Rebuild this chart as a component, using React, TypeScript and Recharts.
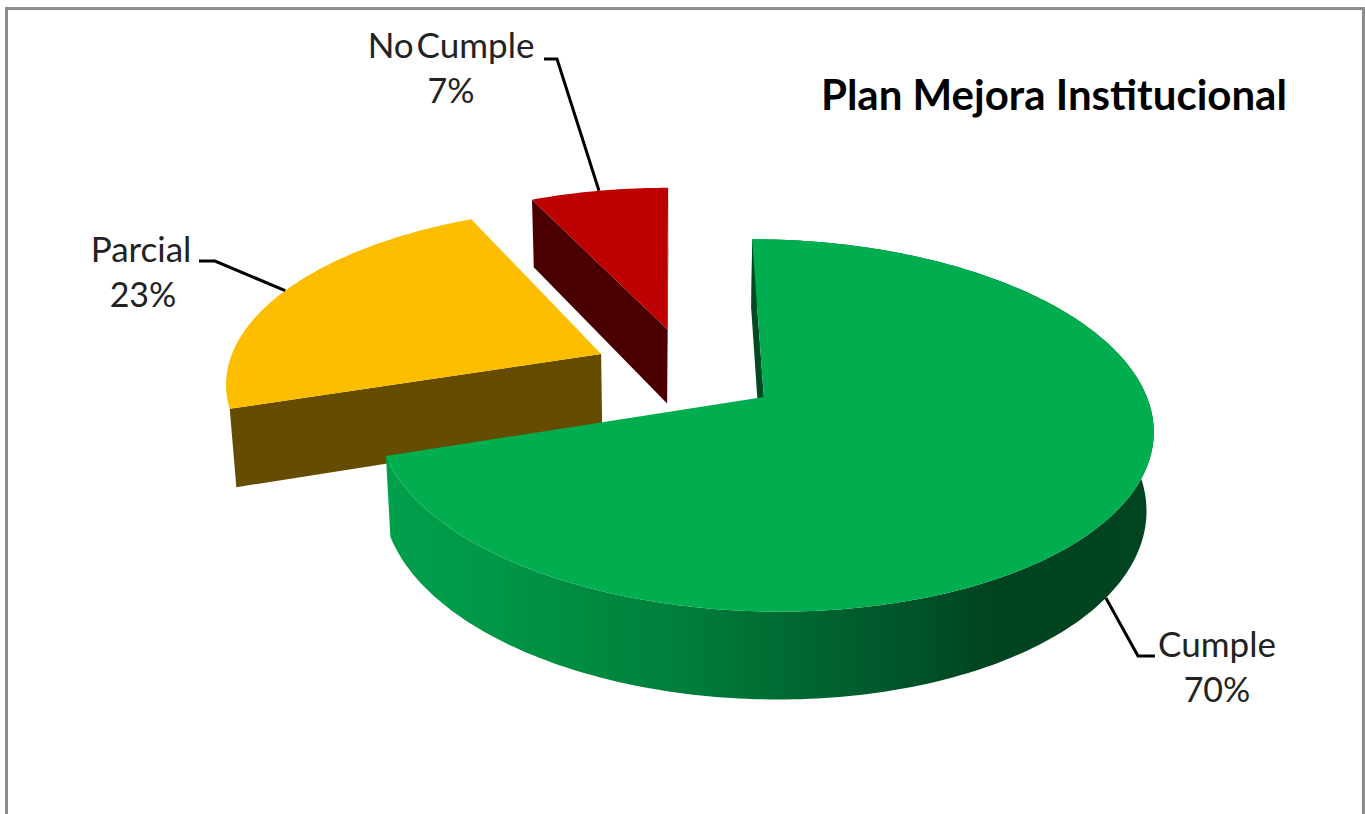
import { Pie, PieChart } from "recharts";

// Painted back to front, so the large slice stays on top of its neighbours.
const categories = ["No Cumple", "Parcial", "Cumple"];
const percentages = [7, 23, 70];

const chartData = categories.map((name, i) => ({ name, value: percentages[i] }));

const TITLE = "Plan Mejora Institucional";
const FONT = "Lato, 'Open Sans', sans-serif";

// Perspective of the tilted disc: vertical squash, foreshortening, wall height
const SQUASH = 0.4747;
const TILT = 0.1528;
const WALL_DROP = 79;
const WALL_SHRINK = 0.015;
const RADIUS = 383;
const CENTER_X = 676;
const CENTER_Y = 397;

// Slice styling and how far each slice is pulled out on the disc plane
const sliceStyles: Record<string, { top: string; wall: string; shift: [number, number]; rimWall: boolean }> = {
  Cumple: { top: "#00AE50", wall: "#004A23", shift: [0.2294, 0], rimWall: true },
  Parcial: { top: "#FDBE00", wall: "#664C00", shift: [-0.2028, 0.245], rimWall: false },
  "No Cumple": { top: "#BE0000", wall: "#4A0000", shift: [-0.0249, 0.396], rimWall: false },
};

// Where each label sits and the elbow of its leader line
const labelLayout: Record<string, { x: number; y: number; elbow: [number, number][]; onWall: boolean; gap: number }> = {
  Cumple: { x: 1217, y: 657, elbow: [[1138, 656], [1155, 656]], onWall: true, gap: 0 },
  Parcial: { x: 141, y: 262, elbow: [[215, 261], [199, 261]], onWall: false, gap: 0 },
  "No Cumple": { x: 451, y: 58, elbow: [[557, 59], [544, 59]], onWall: false, gap: -6 },
};

type Point = [number, number];

function project(cx: number, cy: number, r: number, u: number, v: number, low: boolean): Point {
  const w = 1 + TILT * v + (low ? WALL_SHRINK : 0);
  return [
    cx + (r * u) / w,
    cy + (-r * SQUASH * v + (low ? WALL_DROP : 0)) / w,
  ];
}

const toPath = (pts: Point[]) =>
  "M" + pts.map((p) => `${p[0].toFixed(2)},${p[1].toFixed(2)}`).join("L") + "Z";

const cross = (a: Point, b: Point, c: Point) =>
  (b[0] - a[0]) * (c[1] - a[1]) - (b[1] - a[1]) * (c[0] - a[0]);

function TiltedSlice(props: any) {
  const { cx, cy, outerRadius: r, startAngle, endAngle, name } = props;
  const style = sliceStyles[name];
  const [du, dv] = style.shift;

  const rim = (deg: number, low: boolean) => {
    const a = (deg * Math.PI) / 180;
    return project(cx, cy, r, du + Math.cos(a), dv + Math.sin(a), low);
  };

  const angles: number[] = [];
  for (let a = startAngle; a < endAngle; a += 1) angles.push(a);
  angles.push(endAngle);

  const topRim = angles.map((a) => rim(a, false));
  const lowRim = angles.map((a) => rim(a, true));
  const apex = project(cx, cy, r, du, dv, false);
  const apexLow = project(cx, cy, r, du, dv, true);
  const inside = rim((startAngle + endAngle) / 2, false);

  // A cut face shows only when the drop moves it away from the slice's own top
  const cutFace = (corner: Point, cornerLow: Point, key: string) => {
    const sideInside = cross(apex, corner, inside);
    const sideDrop = cross(apex, corner, apexLow);
    if (sideInside * sideDrop >= 0) return null;
    return <path key={key} d={toPath([corner, apex, apexLow, cornerLow])} fill={style.wall} />;
  };

  return (
    <g>
      {style.rimWall && (
        <path d={toPath([...topRim, ...[...lowRim].reverse()])} fill="url(#cumpleWall)" />
      )}
      {cutFace(topRim[0], lowRim[0], "start")}
      {cutFace(topRim[topRim.length - 1], lowRim[lowRim.length - 1], "end")}
      <path d={toPath([apex, ...topRim])} fill={style.top} />
    </g>
  );
}

function SliceLabel(props: any) {
  const { cx, cy, outerRadius: r, midAngle, name, value } = props;
  const layout = labelLayout[name];
  const [du, dv] = sliceStyles[name].shift;
  const a = (midAngle * Math.PI) / 180;
  const anchor = project(cx, cy, r, du + Math.cos(a), dv + Math.sin(a), layout.onWall);
  const leader = [anchor, ...layout.elbow]
    .map((p) => `${p[0].toFixed(1)},${p[1].toFixed(1)}`)
    .join(" ");

  return (
    <g>
      <polyline points={leader} fill="none" stroke="#000" strokeWidth={3} />
      <text
        x={layout.x}
        y={layout.y}
        textAnchor="middle"
        fontFamily={FONT}
        fontSize={35}
        fill="#222"
        wordSpacing={layout.gap}
      >
        {name}
      </text>
      <text
        x={layout.x + (name === "Parcial" ? 2 : 0)}
        y={layout.y + 45}
        textAnchor="middle"
        fontFamily={FONT}
        fontSize={34}
        fill="#222"
      >
        {value}%
      </text>
    </g>
  );
}

export default function App() {
  return (
    <div
      style={{
        position: "absolute",
        left: 0,
        top: 0,
        width: 1365,
        height: 814,
        overflow: "hidden",
        background: "#fff",
      }}
    >
      <div
        style={{
          position: "absolute",
          left: 5,
          top: 7,
          width: 1354,
          height: 900,
          border: "3px solid #8C8C8C",
        }}
      />
      <div style={{ position: "absolute", left: 0, top: 0 }}>
        <PieChart width={1365} height={814} margin={{ top: 0, right: 0, bottom: 0, left: 0 }}>
          <defs>
            <linearGradient id="cumpleWall" gradientUnits="userSpaceOnUse" x1={385} y1={0} x2={1153} y2={0}>
              <stop offset="0%" stopColor="#00A04C" />
              <stop offset="15%" stopColor="#009646" />
              <stop offset="38%" stopColor="#007F3B" />
              <stop offset="62%" stopColor="#005C2C" />
              <stop offset="80%" stopColor="#00431F" />
              <stop offset="100%" stopColor="#004420" />
            </linearGradient>
          </defs>
          <Pie
            data={chartData}
            dataKey="value"
            nameKey="name"
            cx={CENTER_X}
            cy={CENTER_Y}
            innerRadius={0}
            outerRadius={RADIUS}
            startAngle={90}
            endAngle={450}
            stroke="none"
            shape={TiltedSlice}
            label={SliceLabel}
            labelLine={false}
            isAnimationActive={false}
          />
          <text x={821} y={110} fontFamily={FONT} fontWeight={700} fontSize={42} fill="#000">
            {TITLE}
          </text>
        </PieChart>
      </div>
    </div>
  );
}
